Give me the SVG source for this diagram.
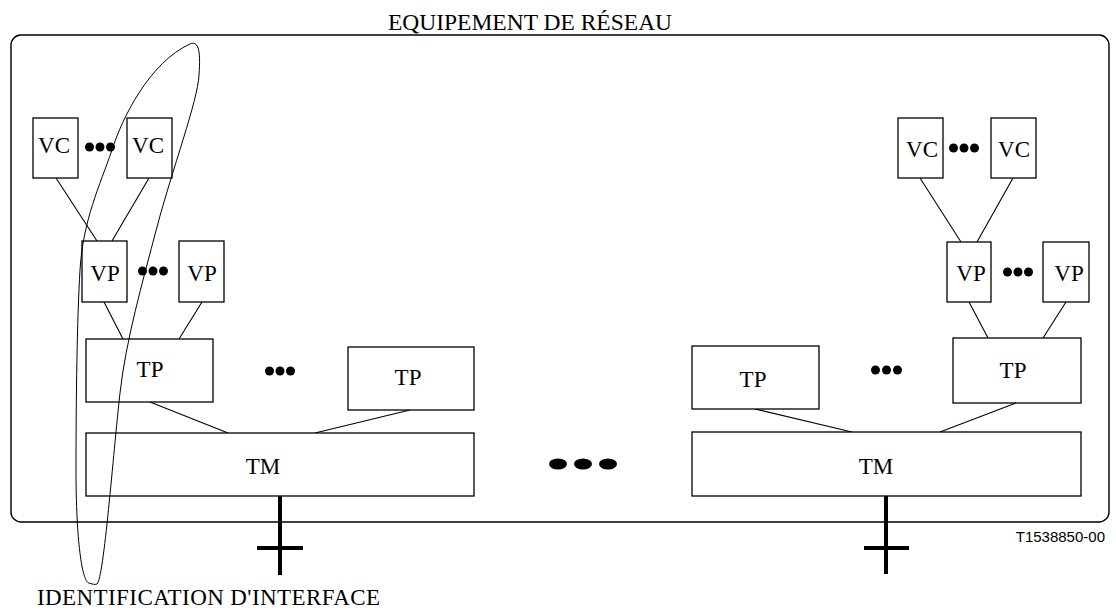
<svg xmlns="http://www.w3.org/2000/svg" width="1116" height="610" viewBox="0 0 1116 610">
<style>
.box{fill:#fff;stroke:#000;stroke-width:1.3}
.lbl{font-family:"Liberation Serif","Times New Roman",serif;font-size:23px;fill:#000}
.conn line{stroke:#000;stroke-width:1.1}
.dot{fill:#000}
.iface line{stroke:#000;stroke-width:4}
</style>
<rect id="equipement" x="11" y="35" width="1098" height="487" rx="10" fill="none" stroke="#000" stroke-width="1.4"/>
<text class="lbl" x="530" y="30" text-anchor="middle" style="font-size:23.5px">EQUIPEMENT DE RÉSEAU</text>
<g id="connectors" class="conn">
<line x1="56" y1="178" x2="97" y2="241"/>
<line x1="149" y1="178" x2="112" y2="241"/>
<line x1="104" y1="302" x2="123" y2="339"/>
<line x1="202" y1="302" x2="179" y2="339"/>
<line x1="150" y1="402" x2="228" y2="433"/>
<line x1="410" y1="410" x2="315" y2="433"/>
<line x1="920" y1="178" x2="961" y2="242"/>
<line x1="1013" y1="178" x2="977" y2="242"/>
<line x1="969" y1="302" x2="988" y2="338"/>
<line x1="1066" y1="302" x2="1043" y2="338"/>
<line x1="755" y1="409" x2="852" y2="432"/>
<line x1="1016" y1="403" x2="940" y2="432"/>
</g>
<g id="vc1"><rect class="box" x="33" y="118" width="45" height="60"/><text class="lbl" x="54" y="153" text-anchor="middle">VC</text></g>
<g id="vc2"><rect class="box" x="127" y="118" width="45" height="60"/><text class="lbl" x="148" y="153" text-anchor="middle">VC</text></g>
<g id="vc-dots-l"><circle class="dot" cx="89.5" cy="147" r="4.5"/><circle class="dot" cx="100" cy="147" r="4.5"/><circle class="dot" cx="110.5" cy="147" r="4.5"/></g>
<g id="vp1"><rect class="box" x="82" y="241" width="45" height="61"/><text class="lbl" x="105" y="281" text-anchor="middle">VP</text></g>
<g id="vp2"><rect class="box" x="179" y="241" width="45" height="61"/><text class="lbl" x="202" y="281" text-anchor="middle">VP</text></g>
<g id="vp-dots-l"><circle class="dot" cx="142.5" cy="271" r="4.5"/><circle class="dot" cx="153" cy="271" r="4.5"/><circle class="dot" cx="163.5" cy="271" r="4.5"/></g>
<g id="tp1"><rect class="box" x="86" y="339" width="127" height="63"/><text class="lbl" x="150" y="377" text-anchor="middle">TP</text></g>
<g id="tp-dots-l"><circle class="dot" cx="269.5" cy="371" r="4.5"/><circle class="dot" cx="280" cy="371" r="4.5"/><circle class="dot" cx="290.5" cy="371" r="4.5"/></g>
<g id="tp2"><rect class="box" x="348" y="347" width="126" height="63"/><text class="lbl" x="408" y="385" text-anchor="middle">TP</text></g>
<g id="tm1"><rect class="box" x="86" y="433" width="388" height="63"/><text class="lbl" x="263" y="474" text-anchor="middle">TM</text></g>
<g id="tm-dots"><ellipse class="dot" cx="558" cy="464" rx="9" ry="5.5"/><ellipse class="dot" cx="583" cy="464" rx="9" ry="5.5"/><ellipse class="dot" cx="608" cy="464" rx="9" ry="5.5"/></g>
<g id="vc3"><rect class="box" x="898" y="118" width="45" height="60"/><text class="lbl" x="922" y="157" text-anchor="middle">VC</text></g>
<g id="vc4"><rect class="box" x="991" y="118" width="45" height="60"/><text class="lbl" x="1014" y="157" text-anchor="middle">VC</text></g>
<g id="vc-dots-r"><circle class="dot" cx="953.5" cy="148" r="4.5"/><circle class="dot" cx="964" cy="148" r="4.5"/><circle class="dot" cx="974.5" cy="148" r="4.5"/></g>
<g id="vp3"><rect class="box" x="947" y="242" width="44" height="60"/><text class="lbl" x="971" y="281" text-anchor="middle">VP</text></g>
<g id="vp4"><rect class="box" x="1043" y="242" width="46" height="60"/><text class="lbl" x="1069" y="281" text-anchor="middle">VP</text></g>
<g id="vp-dots-r"><circle class="dot" cx="1007.5" cy="272" r="4.5"/><circle class="dot" cx="1018" cy="272" r="4.5"/><circle class="dot" cx="1028.5" cy="272" r="4.5"/></g>
<g id="tp3"><rect class="box" x="692" y="346" width="127" height="63"/><text class="lbl" x="753" y="387" text-anchor="middle">TP</text></g>
<g id="tp-dots-r"><circle class="dot" cx="875.5" cy="370" r="4.5"/><circle class="dot" cx="886.5" cy="370" r="4.5"/><circle class="dot" cx="897.5" cy="370" r="4.5"/></g>
<g id="tp4"><rect class="box" x="953" y="338" width="128" height="65"/><text class="lbl" x="1013" y="378" text-anchor="middle">TP</text></g>
<g id="tm2"><rect class="box" x="692" y="432" width="389" height="64"/><text class="lbl" x="876" y="474" text-anchor="middle">TM</text></g>
<g id="interfaces" class="iface">
<line x1="280" y1="496" x2="280" y2="575"/><line x1="257" y1="548" x2="303" y2="548"/>
<line x1="886" y1="496" x2="886" y2="574"/><line x1="864" y1="548" x2="909" y2="548"/>
</g>
<g id="identification">
<path d="M89,583 C82,582 76,540 76,470 C76,400 77,320 80,270 C83,220 100,185 112,150 C122,118 150,62 190,44 C201,39 200,60 199,75 C198,100 172,170 157,227 C142,284 126,340 120,393 C113,455 104,578 97,584 C95,585 92,584 89,583 Z" fill="none" stroke="#000" stroke-width="1"/>
<text class="lbl" x="37" y="605" textLength="343">IDENTIFICATION D'INTERFACE</text>
</g>
<text x="1105" y="542" text-anchor="end" font-family="'Liberation Sans',Arial,sans-serif" font-size="15">T1538850-00</text>
</svg>
